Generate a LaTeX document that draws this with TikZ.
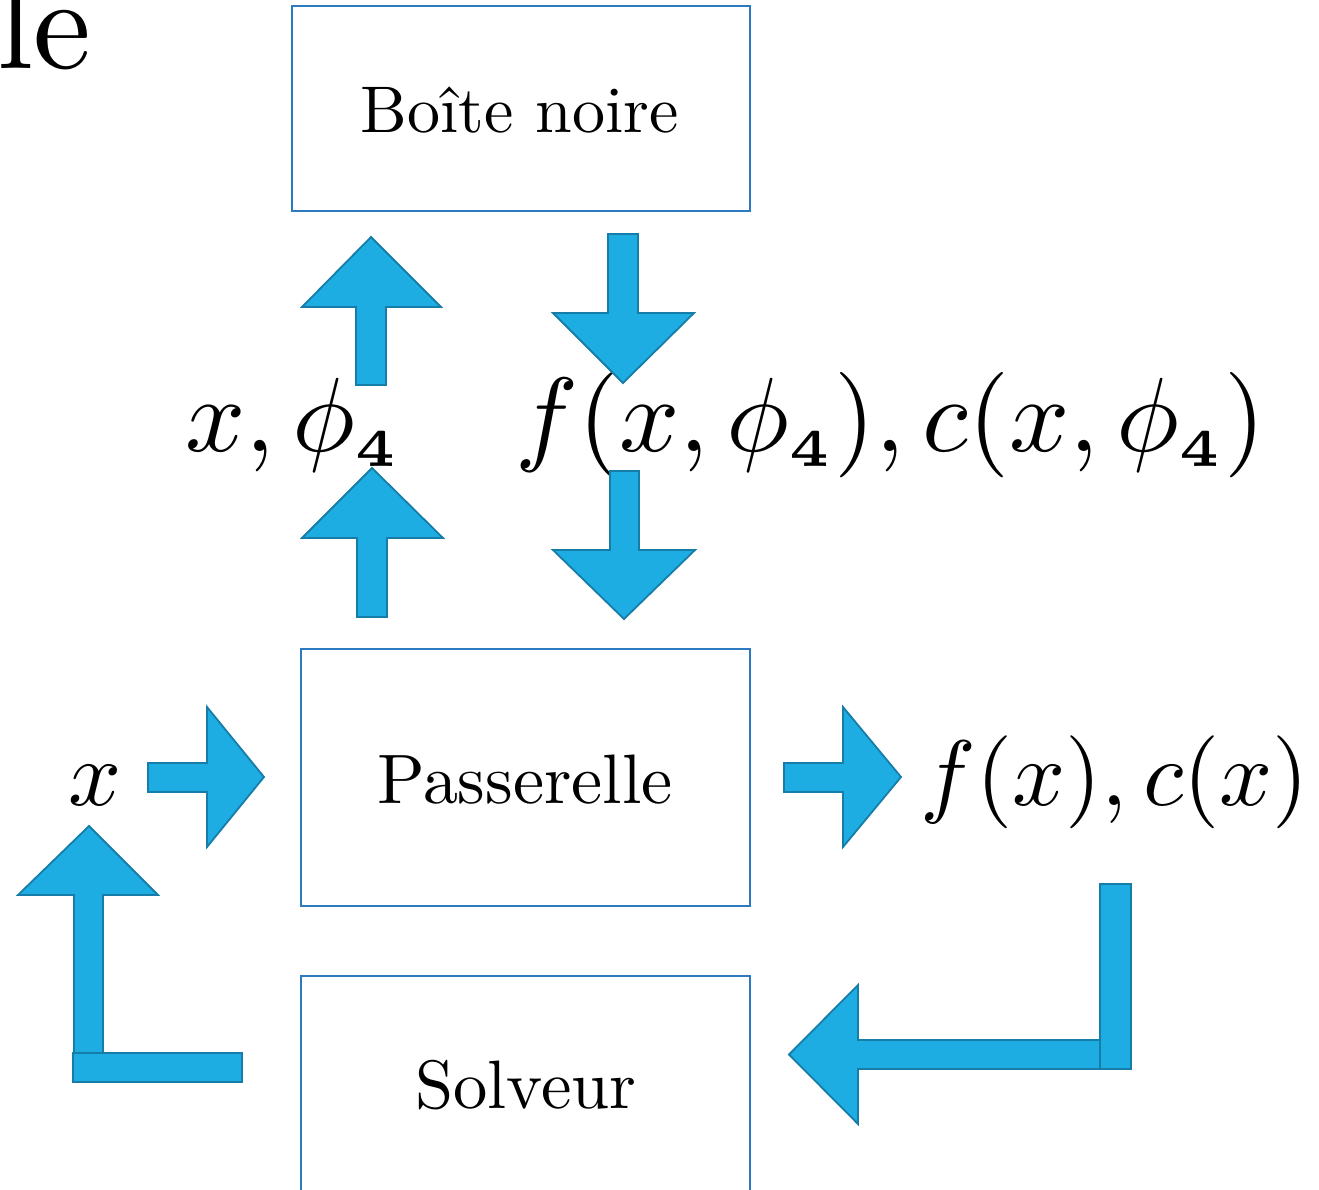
\documentclass[tikz,border=0pt]{standalone}
\definecolor{arrfill}{RGB}{30,173,227}
\definecolor{arrline}{RGB}{22,125,168}
\definecolor{boxline}{RGB}{46,122,192}
\newcommand{\subfour}{{\scriptscriptstyle\mathbf{4}}}
\begin{document}
\begin{tikzpicture}[x=1pt,y=-1pt,
  blockarrow/.style={fill=arrfill,draw=arrline,line width=1.8pt,line join=miter},
  boxnode/.style={draw=boxline,line width=2pt,inner sep=0pt},
  tenpt/.style={font=\fontsize{10}{12}\selectfont,inner sep=0pt},
  boxtext/.style={tenpt,anchor=base},
  bigmath/.style={tenpt,scale=10.55,anchor=base west},
  midmath/.style={tenpt,scale=9.3,anchor=base west}]
\useasboundingbox (0,0) rectangle (1319,1190);
\clip (0,0) rectangle (1319,1190);

% cut-off title fragment
\node[tenpt,scale=13,anchor=base west] (title) at (-5,69) {le};

% boxes
\node[boxnode,minimum width=458,minimum height=205,anchor=north west] (boite) at (291,5) {};
\node[boxtext,scale=6.6] (boitetxt) at (519.5,133) {Boîte noire};
\node[boxnode,minimum width=449,minimum height=257,anchor=north west] (pass) at (300,648) {};
\node[boxtext,scale=7.0] (passtxt) at (525,803) {Passerelle};
\node[boxnode,minimum width=449,minimum height=240,anchor=north west] (solv) at (300,975) {};
\node[boxtext,scale=6.85] (solvtxt) at (526,1108) {Solveur};

% math labels
\node[bigmath] (xphi) at (183,451) {$x,\phi_{\subfour}$};
\node[bigmath] (fc) at (513,451) {$f(x,\phi_{\subfour}),c(x,\phi_{\subfour})$};
\node[midmath] (xin) at (67,805) {$x$};
\node[midmath] (fcout) at (919,805) {$f(x),c(x)$};

% vertical arrows
\draw[blockarrow] (356,385) -- (356,307) -- (302,307) -- (371,237) -- (441,307) -- (386,307) -- (386,385) -- cycle;
\draw[blockarrow] (608,234) -- (638,234) -- (638,313) -- (694,313) -- (623,383) -- (553,313) -- (608,313) -- cycle;
\draw[blockarrow] (357,617) -- (357,538) -- (302,538) -- (372,468) -- (443,538) -- (387,538) -- (387,617) -- cycle;
\draw[blockarrow] (610,471) -- (639,471) -- (639,550) -- (695,550) -- (624,619) -- (553,550) -- (610,550) -- cycle;

% horizontal arrows
\draw[blockarrow] (148,763) -- (207,763) -- (207,707) -- (264,777) -- (207,847) -- (207,792) -- (148,792) -- cycle;
\draw[blockarrow] (784,763) -- (843,763) -- (843,707) -- (901,777) -- (843,847) -- (843,792) -- (784,792) -- cycle;

% left L arrow
\draw[blockarrow] (74,1053) -- (74,895) -- (18,895) -- (89,826) -- (158,895) -- (103,895) -- (103,1053) -- cycle;
\draw[blockarrow] (73,1053) rectangle (242,1082);

% right L arrow
\draw[blockarrow] (1100,1040) -- (858,1040) -- (858,985) -- (789,1054.5) -- (858,1124) -- (858,1069) -- (1100,1069) -- cycle;
\draw[blockarrow] (1100,884) rectangle (1131,1069);
\end{tikzpicture}
\end{document}
